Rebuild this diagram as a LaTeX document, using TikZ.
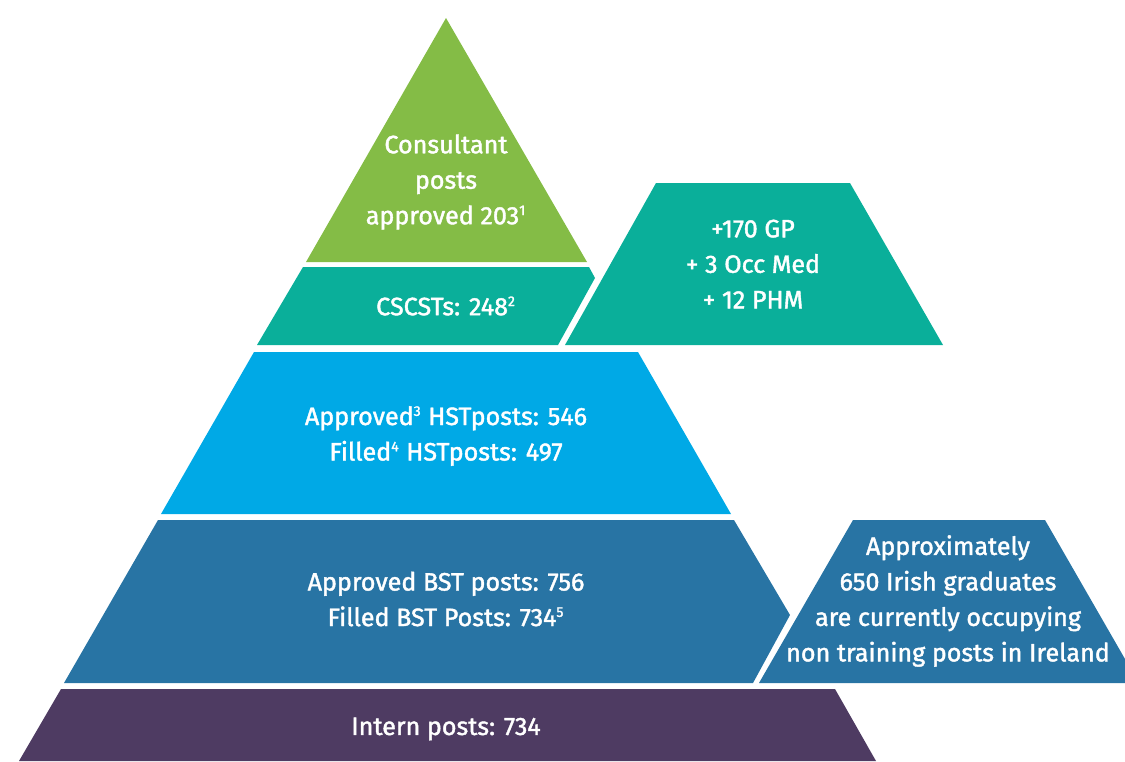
\documentclass[tikz,border=0pt]{standalone}
\usepackage{fontspec}
\setmainfont{Fira Sans}[BoldFont=Fira Sans,BoldFeatures={FakeBold=1.6}]
\usepackage{xcolor}
\definecolor{consgreen}{HTML}{84BC46}
\definecolor{cscteal}{HTML}{0AAF9A}
\definecolor{hstblue}{HTML}{00A9E6}
\definecolor{bstblue}{HTML}{2874A4}
\definecolor{internpurple}{HTML}{4E3B62}
\newcommand{\fnote}[1]{\textsuperscript{\fontsize{8}{8}\selectfont #1}}

\begin{document}
\begin{tikzpicture}[x=0.02cm,y=-0.02cm,
  lbl/.style={text=white,align=center,inner sep=0pt,font=\fontsize{14.3}{20.2}\selectfont\bfseries}]
\useasboundingbox (0,0) rectangle (1125,761);
\fill[consgreen] (446,18) -- (587,262) -- (306,262) -- cycle;
\fill[cscteal] (303,267) -- (589,267) -- (595,278) -- (558,345) -- (257,345) -- cycle;
\fill[cscteal] (656,183) -- (850,183) -- (943,345) -- (565,345) -- cycle;
\fill[hstblue] (254,352) -- (638,352) -- (731,514) -- (161,514) -- cycle;
\fill[bstblue] (158,520) -- (734,520) -- (790,615) -- (753,683) -- (64,683) -- cycle;
\fill[bstblue] (853,520) -- (1045,520) -- (1125,659) -- (1125,683) -- (759,683) -- cycle;
\fill[internpurple] (61,689) -- (835,689) -- (876,761) -- (19,761) -- cycle;
\node[lbl] (consultant) at (446,182) {Consultant\\posts\\approved 203\fnote{1}};
\node[lbl] (cscst) at (446,306) {CSCSTs: 248\fnote{2}};
\node[lbl] (extra) at (753,264) {+170 GP\\+ 3 Occ Med\\+ 12 PHM};
\node[lbl] (hst) at (446,436) {Approved\fnote{3} HSTposts: 546\\Filled\fnote{4} HSTposts: 497};
\node[lbl] (bst) at (446,599) {Approved BST posts: 756\\Filled BST Posts: 734\fnote{5}};
\node[lbl] (grads) at (948,601) {Approximately\\650 Irish graduates\\are currently occupying\\non training posts in Ireland};
\node[lbl] (intern) at (446,729) {Intern posts: 734};
\end{tikzpicture}
\end{document}
